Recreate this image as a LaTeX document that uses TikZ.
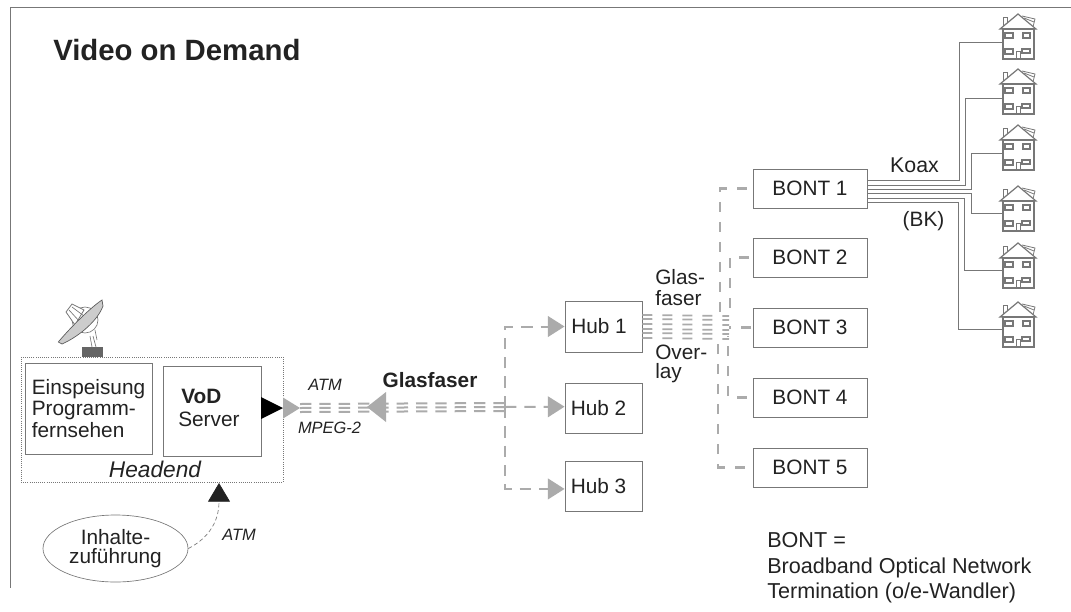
\documentclass[tikz,border=0pt]{standalone}
\usepackage{fontspec}
\setmainfont{Liberation Sans}
\usetikzlibrary{arrows.meta,shapes.geometric}
\definecolor{ink}{HTML}{222222}
\definecolor{boxline}{HTML}{777777}
\definecolor{fibrecol}{HTML}{ABABAB}
\newcommand{\txt}{\fontsize{15.6}{16.1}\selectfont}
\tikzset{
  frameline/.style={draw=boxline,line width=0.75pt},
  plainbox/.style={draw=boxline,line width=0.7pt,fill=white,inner sep=0pt,text=ink,font=\txt},
  label/.style={inner sep=0pt,text=ink,font=\txt,align=left},
  smallit/.style={inner sep=0pt,text=ink,font=\fontsize{12.3}{14}\selectfont\itshape},
  legend/.style={inner sep=0pt,anchor=base west,text=ink,font=\fontsize{16.2}{18}\selectfont},
  fibre/.style={draw=fibrecol,line width=1.5pt,dash pattern=on 8.5pt off 6pt},
  fibrethin/.style={draw=fibrecol,line width=1.6pt,dash pattern=on 7.5pt off 7.5pt},
  overlay line/.style={draw=fibrecol,line width=1.3pt,dash pattern=on 7.5pt off 7.5pt},
  coax/.style={draw=boxline,line width=0.75pt},
  hubtip/.style={-{Triangle[length=12.5pt,width=15.5pt,fill=fibrecol,color=fibrecol]}},
  househome/.pic={
    \draw[boxline,line width=0.6pt,fill=white] (-15,12)--(-15,3)--(-11,3)--(-11,9);
    \draw[boxline,line width=0.6pt] (4,2)--(17,5)--(15,13);
    \draw[boxline,line width=0.6pt] (6,4)--(16,8);
    \draw[boxline,line width=0.9pt,fill=white] (-18,15)--(0,0)--(18,15)--cycle;
    \draw[boxline,line width=1.2pt] (-15,15) rectangle (16,45);
    \draw[boxline,line width=0.9pt] (-13,19) rectangle (-5,24);
    \draw[boxline,line width=0.9pt] (5,19) rectangle (12,24);
    \draw[boxline,line width=0.9pt] (-13,35) rectangle (-5,40);
    \draw[boxline,line width=0.9pt] (4,35) rectangle (12,39);
    \draw[boxline,line width=0.7pt] (-2,45)--(-2,37)--(2,37)--(2,45);
  }
}
\begin{document}
\begin{tikzpicture}[x=0.75pt,y=-0.75pt]
\useasboundingbox (0,0) rectangle (1071,611);
% frame
\draw[frameline] (1071,7) -- (10.5,7) -- (10.5,588);
\node[inner sep=0pt,anchor=base west,text=ink,font=\fontsize{22}{24}\selectfont\bfseries] (title) at (53,60) {Video on Demand};

% dish
\fill[fill=boxline!85!black] (82,347) rectangle (103,357);
\draw[boxline,line width=0.5pt,fill=white] (85,320) circle (13);
\draw[boxline,line width=0.5pt,fill=white] (93,336) -- (96,347) (90,336) -- (92,347) (95,330) -- (97,340);
\draw[boxline,line width=0.6pt,fill=white] (66,312) -- (72,304) -- (84,310) -- (75,325) -- cycle;
\draw[boxline,line width=0.5pt] (69,310) -- (80,322) (72,307) -- (84,316);
\draw[gray!70!black,line width=0.5pt,fill=black!20] (58.3,342) .. controls (70,328) and (90,308) .. (102,300) -- (103,306) .. controls (98,320) and (80,336) .. (62,344) -- cycle;

% headend
\node[draw=boxline,densely dotted,line width=0.6pt,minimum width=262*0.75pt,minimum height=125*0.75pt,inner sep=0pt] (headend) at (152,419.5) {};
\node[plainbox,minimum width=127*0.75pt,minimum height=91*0.75pt,align=left] (einsp) at (88.5,408.5) {Einspeisung\\Programm-\\fernsehen};
\node[plainbox,minimum width=98*0.75pt,minimum height=90*0.75pt] (vod) at (212,411) {};
\node[label,anchor=base west,font=\txt\bfseries] (vodt) at (181,403) {VoD};
\node[label,anchor=base west] (servert) at (178,426) {Server};
\node[inner sep=0pt,anchor=base,text=ink,font=\fontsize{17}{18}\selectfont\itshape] (headt) at (155,477) {Headend};

% ellipse
\node[ellipse,draw=boxline,line width=0.5pt,minimum width=145*0.75pt,minimum height=67*0.75pt,inner sep=0pt,align=center,text=ink,font=\fontsize{15.6}{15.6}\selectfont] (inhalt) at (115.5,548.5) {\raisebox{-2pt}{Inhalte-}\\\raisebox{-1pt}{zuführung}};
\coordinate (hin) at (219,483);
\draw[boxline,line width=0.5pt,densely dashed,-{Triangle[length=14pt,width=16.5pt,fill=ink,color=ink]}] (inhalt.east) .. controls (205,540) and (219,525) .. (hin);
\node[smallit] (atm2) at (239,535) {ATM};

% hubs
\node[plainbox,minimum width=77*0.75pt,minimum height=51*0.75pt] (hub1) at (603.5,326.5) {Hub 1\kern6.75pt};
\node[plainbox,minimum width=77*0.75pt,minimum height=50*0.75pt] (hub2) at (603.5,408) {Hub 2\kern7.5pt};
\node[plainbox,minimum width=77*0.75pt,minimum height=50*0.75pt] (hub3) at (603.5,486) {Hub 3\kern7.5pt};

% main fibre
\coordinate (vodout) at (261,408);
\coordinate (hdout) at (283,408);
\coordinate (tipA) at (300,408);
\coordinate (jn) at (505,407);
\foreach \dy in {-4,0,4} {
  \draw[fibre] ([yshift=\dy*0.75pt]tipA) -- ([yshift=\dy*0.75pt]jn);
}
\fill[black] (vodout) ++(0,-11) -- (hdout) -- ([yshift=-8.25pt]vodout) -- cycle;
\fill[fibrecol] (hdout) ++(0,-10.5) -- (tipA) -- ([yshift=-7.9pt]hdout) -- cycle;
\coordinate (tipB) at (367,407);
\coordinate (baseB) at (386,407);
\fill[fibrecol] (baseB) ++(0,-15) -- (tipB) -- ([yshift=-11.25pt]baseB) -- cycle;
\draw[fibre,hubtip] (jn) -- ([yshift=1pt]hub2.west);
\draw[fibre,hubtip] (jn) |- (hub1.west);
\draw[fibre,hubtip] (jn) |- ([yshift=-2.2pt]hub3.west);
\node[smallit] (atm1) at (325,385) {ATM};
\node[smallit] (mpeg) at (329.5,428) {MPEG-2};
\node[inner sep=0pt,anchor=base,text=ink,font=\txt\bfseries] (glas1) at (430,387) {Glasfaser};

% bonts
\foreach \n/\y in {1/188.5,2/257.5,3/327.5,4/397.5,5/467.5} {
  \node[plainbox,minimum width=114*0.75pt,minimum height=39*0.75pt] (bont\n) at (810,\y) {BONT \n};
}
% overlay
\coordinate (ov) at (729,327.5);
\foreach \dy in {11.5,7.5,2.5,-2.5,-6.5,-11.5} {
  \draw[overlay line] ([yshift=\dy*0.75pt]hub1.east) -- ([yshift=\dy*0.75pt]ov);
}
\coordinate (b1) at (720,320);
\coordinate (b2) at (730,318);
\coordinate (b4) at (728,336);
\coordinate (b5) at (718,338);
\draw[fibrethin,shorten <=4.5pt] (bont1.west) -| (b1);
\draw[fibrethin,shorten <=2.5pt] (bont2.west) -| (b2);
\draw[fibrethin,shorten <=1pt] (bont3.west) -- (ov);
\draw[fibrethin,shorten <=4.5pt] (bont4.west) -| (b4);
\draw[fibrethin,shorten <=6pt] (bont5.west) -| (b5);
\node[label,anchor=base west] (glas2a) at (655,284) {Glas-};
\node[label,anchor=base west] (glas2b) at (655,305) {faser};
\node[label,anchor=base west] (over) at (655,359) {Over-};
\node[label,anchor=base west] (lay) at (655,378) {lay};

% houses
\foreach \i/\a in {1/14,2/69,3/125,4/186,5/243,6/302} {
  \pic at (1018,\a) {househome};
}
\coordinate (h1) at (1003,42);
\coordinate (h2) at (1003,98);
\coordinate (h3) at (1003,153);
\coordinate (h4) at (1003,213);
\coordinate (h5) at (1003,270);
\coordinate (h6) at (1003,329);
\draw[coax] ([yshift=8.5*0.75pt]bont1.east) -| (959,42) -- (h1);
\draw[coax] ([yshift=3.5*0.75pt]bont1.east) -| (965,98) -- (h2);
\draw[coax] ([yshift=-0.5*0.75pt]bont1.east) -| (971,153) -- (h3);
\draw[coax] ([yshift=-4.5*0.75pt]bont1.east) -| (971,213) -- (h4);
\draw[coax] ([yshift=-9.5*0.75pt]bont1.east) -| (964,270) -- (h5);
\draw[coax] ([yshift=-13.5*0.75pt]bont1.east) -| (958,329) -- (h6);
\node[label,anchor=base,font=\fontsize{16}{18}\selectfont] (koax) at (914.5,172) {Koax};
\node[label,anchor=base] (bk) at (923.5,226) {(BK)};

% legend
\node[legend] (l1) at (767,547) {BONT =};
\node[legend] (l2) at (767,573) {Broadband Optical Network};
\node[legend] (l3) at (767,598) {Termination (o/e-Wandler)};
\end{tikzpicture}
\end{document}
